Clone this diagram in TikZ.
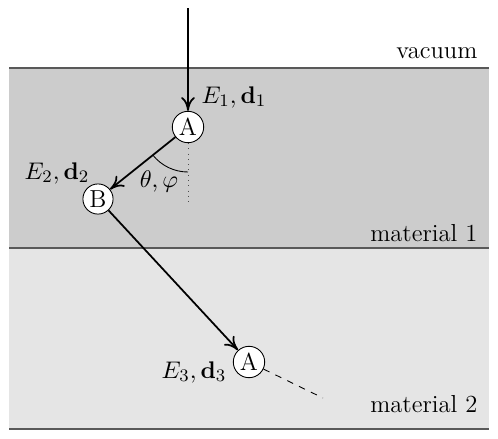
\documentclass[tikz,border=0pt]{standalone}
\usepackage{amsmath,amssymb}
\usepackage{tikz}
\usetikzlibrary{positioning,arrows.meta}

\begin{document}
\begin{tikzpicture}[
		x=0.016cm, y=-0.016cm,
		font=\fontsize{11.2}{13}\selectfont,
		layer/.style={draw=black!65, thick},
		site/.style={draw, circle, fill=white, inner sep=1pt, minimum size=0.46cm},
		ray/.style={-{To[length=2.2mm,width=2.2mm]}, thick},
		lbl/.style={inner sep=1pt}
		]
		\useasboundingbox (0,0) rectangle (498,438);
		% layers
		\fill[black!20] (9,68) rectangle (489,248);
		\fill[black!10] (9,248) rectangle (489,429);
		\draw[layer] (9,68) -- (489,68);
		\draw[layer] (9,248) -- (489,248);
		\draw[layer] (9,429) -- (489,429);
		\node[anchor=base east, lbl] (vac) at (480,58) {vacuum};
		\node[anchor=base east, lbl] (mat1) at (480,241) {material 1};
		\node[anchor=base east, lbl] (mat2) at (480,412) {material 2};
		% scattering sites
		\coordinate (src) at (188,8);
		\node[site] (A1) at (188,127) {A};
		\node[site] (B) at (98,199) {B};
		\node[site] (A3) at (249,362) {A};
		\coordinate (out) at (323,398);
		\coordinate (vert) at (188,204);
		% path
		\draw[ray] (src) -- (A1);
		\draw[ray] (A1) -- (B);
		\draw[ray] (B) -- (A3);
		\draw[dashed] (A3) -- (out);
		% angle
		\draw[dotted, black!70] (A1) -- (vert);
		\draw (A1.center) ++(141.3:45) arc[start angle=141.3, end angle=90, radius=45];
		% labels
		\node[lbl, anchor=west] (e1) at (199,97) {$E_1,\mathbf{d}_1$};
		\node[lbl, anchor=east] (e2) at (92,173) {$E_2,\mathbf{d}_2$};
		\node[lbl] (ang) at (159,181) {$\theta,\varphi$};
		\node[lbl, anchor=east] (e3) at (229,372) {$E_3,\mathbf{d}_3$};
	\end{tikzpicture}
\end{document}
